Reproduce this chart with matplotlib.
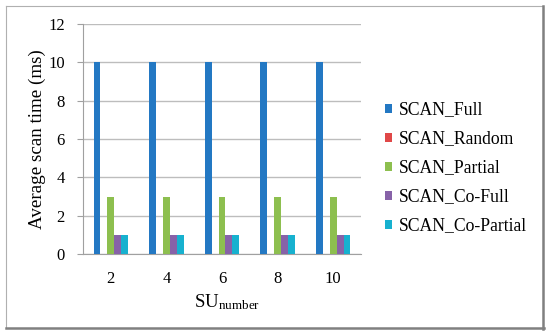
import matplotlib
matplotlib.use("Agg")
import matplotlib.pyplot as plt
from matplotlib.lines import Line2D
import numpy as np

categories = ["2", "4", "6", "8", "10"]
series_names = ["SCAN_Full", "SCAN_Random", "SCAN_Partial", "SCAN_Co-Full", "SCAN_Co-Partial"]
scan_full = [10, 10, 10, 10, 10]
scan_random = [0, 0, 0, 0, 0]
scan_partial = [3, 3, 3, 3, 3]
scan_co_full = [1, 1, 1, 1, 1]
scan_co_partial = [1, 1, 1, 1, 1]
y_ticks = [0, 2, 4, 6, 8, 10, 12]

colors = ["#2378C3", "#E04848", "#8DBF4F", "#8762A8", "#17B1CF"]

plt.rcParams["font.family"] = ["Liberation Serif", "DejaVu Serif"]
plt.rcParams["mathtext.fontset"] = "custom"
plt.rcParams["mathtext.rm"] = "Liberation Serif"
plt.rcParams["mathtext.it"] = "Liberation Serif:italic"

W, H = 550, 334
fig = plt.figure(figsize=(W / 100, H / 100), dpi=100)
ax = fig.add_axes([83 / W, 1 - 254 / H, (361 - 83) / W, (254 - 24) / H])

x = np.arange(len(categories))
w = 0.124
all_series = [scan_full, scan_random, scan_partial, scan_co_full, scan_co_partial]
handles = []
for i, (vals, name, c) in enumerate(zip(all_series, series_names, colors)):
    b = ax.bar(x + (i - 2) * w, vals, width=w, color=c, label=name, zorder=3)
    handles.append(b)

ax.set_xlim(-0.5, len(categories) - 0.5)
ax.set_ylim(0, 12)
ax.set_yticks(y_ticks)
ax.set_xticks(x)
ax.set_xticklabels(categories)
ax.grid(axis="y", color="#BDBDBD", linewidth=1.0, zorder=0)
for s in ["top", "right"]:
    ax.spines[s].set_visible(False)
ax.spines["left"].set_color("#A0A0A0")
ax.spines["bottom"].set_color("#A0A0A0")
ax.tick_params(axis="y", length=4, color="#A0A0A0", pad=9, labelsize=12)
ax.tick_params(axis="x", length=0, pad=12, labelsize=12)

ax.set_ylabel("Average scan time (ms)", fontsize=13.7)
ax.yaxis.set_label_coords((46 - 83) / (361 - 83), 0.5)
ax.set_xlabel(r"SU$_{\mathrm{number}}$", fontsize=13.5)
ax.xaxis.set_label_coords((227 - 83) / (361 - 83), -(292 - 254) / (254 - 24))

leg = ax.legend(handles=handles, loc="center left",
                bbox_to_anchor=(385 / W, 1 - 168 / H),
                bbox_transform=fig.transFigure,
                frameon=False, fontsize=12.7, handlelength=0.4, handleheight=0.4,
                handletextpad=0.4, labelspacing=0.68, borderpad=0, borderaxespad=0)

# figure border
def fline(x0, y0, x1, y1, color, lw):
    fig.add_artist(Line2D([x0 / W, x1 / W], [1 - y0 / H, 1 - y1 / H],
                          transform=fig.transFigure, color=color, linewidth=lw))

fline(6, 6, 543, 6, "#B0B0B0", 0.8)
fline(6, 6, 6, 328, "#B0B0B0", 0.8)
fline(543, 5.5, 543, 328.5, "#808080", 1.8)
fline(5.5, 328, 543.5, 328, "#808080", 1.8)

fig.savefig("out.png", dpi=100)
